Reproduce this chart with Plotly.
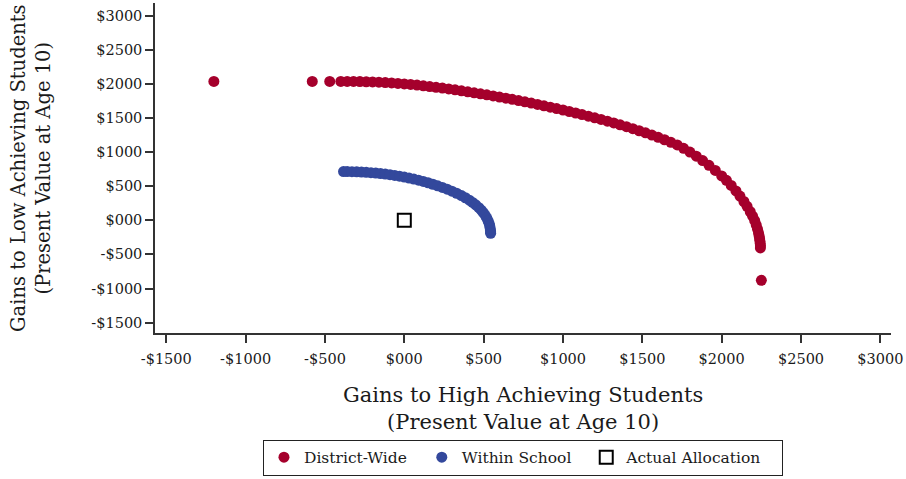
import plotly.graph_objects as go

# ---- data ----
district_x = [-1200, -580, -470,
              -400, -360, -320, -280, -240, -200, -160, -120, -80, -40, 0, 40, 80, 120, 160, 200,
              240, 280, 320, 360, 400, 440, 480, 520, 560, 600, 640, 680, 720, 760, 800, 840,
              880, 920, 960, 1000, 1040, 1080, 1120, 1160, 1200, 1240, 1280, 1320, 1360, 1400,
              1440, 1480, 1520, 1560, 1600, 1640, 1680, 1720, 1760, 1800, 1840, 1880, 1920, 1960,
              2000, 2030, 2060, 2090, 2115, 2140, 2160, 2180, 2195, 2208, 2218, 2226, 2232, 2236,
              2239, 2241, 2243, 2244, 2244,
              2250]
district_y = [2035, 2035, 2035,
              2035, 2035, 2034, 2032, 2030, 2027, 2023, 2018, 2012, 2005, 1998, 1990, 1981, 1971, 1960, 1949,
              1937, 1924, 1911, 1897, 1883, 1868, 1853, 1838, 1822, 1806, 1789, 1772, 1754, 1736, 1717, 1698,
              1678, 1658, 1637, 1616, 1594, 1572, 1549, 1526, 1502, 1477, 1452, 1426, 1399, 1371,
              1342, 1312, 1281, 1249, 1215, 1180, 1143, 1104, 1055, 1000, 940, 875, 805, 730,
              650, 585, 510, 430, 355, 275, 205, 125, 60, -5, -70, -130, -185, -230,
              -270, -305, -340, -375, -405,
              -880]

within_x = [-383, -360, -330, -300, -270, -240, -210, -180, -150, -120, -90, -60, -30, 0, 30, 60,
            90, 120, 150, 180, 210, 240, 270, 300, 330, 360, 385, 410, 430, 450, 470, 485, 498,
            510, 520, 528, 534, 538, 541, 543, 544, 544]
within_y = [714, 714, 712, 710, 707, 703, 698, 692, 685, 677, 668, 657, 646, 633, 619, 604,
            587, 569, 550, 528, 505, 481, 455, 427, 396, 362, 330, 295, 262, 226, 185, 148, 112,
            72, 32, -8, -45, -80, -115, -150, -172, -192]

actual_x = [0]
actual_y = [0]

tick_vals = [-1500, -1000, -500, 0, 500, 1000, 1500, 2000, 2500, 3000]
tick_text = ["-$1500", "-$1000", "-$500", "$000", "$500", "$1000", "$1500", "$2000", "$2500", "$3000"]

RED = "#a5002c"
BLUE = "#33489c"
FONT = "DejaVu Serif"
INK = "#1a1a1a"
PAD = "\u00a0\u00a0"  # legend spacing

fig = go.Figure()
fig.add_trace(go.Scatter(x=district_x, y=district_y, mode="markers", name="District-Wide" + PAD,
                         marker=dict(color=RED, size=11, line=dict(width=0))))
fig.add_trace(go.Scatter(x=within_x, y=within_y, mode="markers", name="Within School" + PAD,
                         marker=dict(color=BLUE, size=11, line=dict(width=0))))
fig.add_trace(go.Scatter(x=actual_x, y=actual_y, mode="markers", name="Actual Allocation" + PAD + "\u00a0",
                         marker=dict(symbol="square-open", color="black", size=13,
                                     line=dict(width=2, color="black"))))

axis_common = dict(
    tickmode="array", tickvals=tick_vals, ticktext=tick_text,
    showgrid=False, zeroline=False, showline=True, linecolor="#333333", linewidth=1.5,
    ticks="outside", ticklen=8, tickwidth=1.5, tickcolor="#333333",
    tickfont=dict(family=FONT, size=14.5, color=INK),
)

fig.update_layout(
    width=906, height=479,
    margin=dict(l=155, r=15, t=3, b=144),
    paper_bgcolor="white", plot_bgcolor="white",
    font=dict(family=FONT, color=INK),
    xaxis=dict(range=[-1571, 3067], ticklabelstandoff=4, **axis_common),
    yaxis=dict(range=[-1652, 3184], **axis_common),
    showlegend=True,
    legend=dict(orientation="h", x=0.1467, xanchor="left", y=-0.432, yanchor="bottom",
                bordercolor="#222222", borderwidth=1, bgcolor="white",
                font=dict(family=FONT, size=15.5, color=INK),
                itemwidth=30, tracegroupgap=0),
    annotations=[
        dict(text="Gains to High Achieving Students<br>(Present Value at Age 10)",
             xref="paper", yref="paper", x=0.5, y=-0.229, xanchor="center", yanchor="middle",
             showarrow=False, font=dict(family=FONT, size=21, color=INK)),
        dict(text="Gains to Low Achieving Students<br>(Present Value at Age 10)",
             xref="paper", yref="paper", x=-0.1685, y=0.5, xanchor="center", yanchor="middle",
             textangle=-90, showarrow=False, font=dict(family=FONT, size=19.5, color=INK)),
    ],
)

fig.write_html("out.html")
